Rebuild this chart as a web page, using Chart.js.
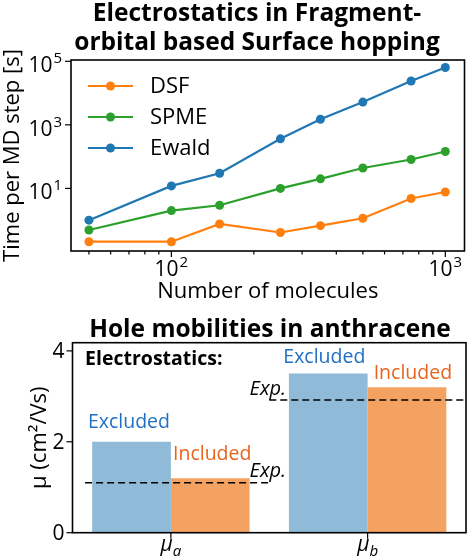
<!DOCTYPE html>
<html>
<head>
<meta charset="utf-8">
<script src="https://cdn.jsdelivr.net/npm/chart.js@4.4.0/dist/chart.umd.min.js"></script>
<style>
    html, body { margin: 0; padding: 0; background: #fff; }
    body { width: 469px; height: 558px; position: relative; overflow: hidden; }
    canvas { position: absolute; left: 0; }
    #timingChart { top: 0; }
    #mobilityChart { top: 305px; }
</style>
</head>
<body>
<canvas id="timingChart" width="469" height="305"></canvas>
<canvas id="mobilityChart" width="469" height="253"></canvas>
<script>
// ---- ข้อมูลกราฟบน: เวลาต่อ MD step ----
const nMolecules = [50, 100, 150, 250, 350, 500, 750, 1000];
const timeDSF   = [0.21, 0.21, 0.76, 0.41, 0.67, 1.15, 4.8, 7.7];
const timeSPME  = [0.49, 2.0, 2.95, 10, 20, 44, 81, 145];
const timeEwald = [1.0, 12, 30, 363, 1500, 5200, 24000, 64000];
const seriesNames = ['DSF', 'SPME', 'Ewald'];
const xTickValues = [50, 60, 70, 80, 90, 100, 200, 300, 400, 500, 600, 700, 800, 900, 1000];
const xLabelValues = [100, 1000];
const yTickValues = [10, 1000, 100000];

// ---- ข้อมูลกราฟล่าง: mobility ----
const mobilityLabels = ['μa', 'μb'];
const mobilityExcluded = [2.0, 3.5];
const mobilityIncluded = [1.2, 3.2];
const expMobility = [1.1, 2.92];
const expSpans = [[-0.436, 0.5], [0.5, 1.5]];
const mobilityTicks = [0, 2, 4];

const FONT = '"Open Sans", "DejaVu Sans", sans-serif';
const seriesColors = ['#ff7f0e', '#2ca02c', '#1f77b4'];
Chart.defaults.font.family = FONT;
Chart.defaults.color = '#000';

/**
 * เขียนเลขยกกำลัง 10^n
 */
function drawPower(ctx, exponent, x, baseline, align) {
    ctx.font = `21px ${FONT}`;
    const w1 = ctx.measureText('10').width;
    ctx.font = `15px ${FONT}`;
    const w2 = ctx.measureText(String(exponent)).width + 1;
    let x0 = x;
    if (align === 'center') x0 = x - (w1 + w2) / 2;
    if (align === 'right') x0 = x - (w1 + w2);
    ctx.textAlign = 'left';
    ctx.textBaseline = 'alphabetic';
    ctx.font = `21px ${FONT}`;
    ctx.fillText('10', x0, baseline);
    ctx.font = `15px ${FONT}`;
    ctx.fillText(String(exponent), x0 + w1 + 1, baseline - 9);
}

/**
 * กรอบรอบพื้นที่กราฟ
 */
const axesFrame = {
    id: 'axesFrame',
    afterDraw(chart) {
        const {ctx, chartArea: a} = chart;
        ctx.save();
        ctx.strokeStyle = '#000';
        ctx.lineWidth = 1.6;
        ctx.strokeRect(a.left, a.top, a.right - a.left, a.bottom - a.top);
        ctx.restore();
    }
};

/**
 * ขีด tick (major ยาว / minor สั้น)
 */
const tickMarks = {
    id: 'tickMarks',
    afterDraw(chart, args, opts) {
        const {ctx, chartArea: a} = chart;
        ctx.save();
        ctx.strokeStyle = '#000';
        ctx.lineWidth = 1.2;
        ['x', 'y'].forEach(id => {
            const scale = chart.scales[id];
            scale.ticks.forEach((t, i) => {
                const major = opts.isMajor(id, t.value);
                const len = major ? 6 : 3.5;
                const p = scale.getPixelForTick(i);
                ctx.beginPath();
                if (id === 'x') {
                    ctx.moveTo(p, a.bottom);
                    ctx.lineTo(p, a.bottom + len);
                } else {
                    ctx.moveTo(a.left, p);
                    ctx.lineTo(a.left - len, p);
                }
                ctx.stroke();
            });
        });
        ctx.restore();
    }
};

/**
 * หัวเรื่องตัวหนา
 */
const figureTitle = {
    id: 'figureTitle',
    afterDraw(chart, args, opts) {
        const ctx = chart.ctx;
        ctx.save();
        ctx.font = `bold ${opts.size}px ${FONT}`;
        ctx.fillStyle = '#000';
        ctx.textAlign = 'center';
        ctx.textBaseline = 'alphabetic';
        opts.lines.forEach((line, i) => ctx.fillText(line, opts.x, opts.y + i * opts.gap));
        ctx.restore();
    }
};

/**
 * ป้าย tick แบบ 10^n ของกราฟบน
 */
const powerLabels = {
    id: 'powerLabels',
    afterDraw(chart) {
        const {ctx, chartArea: a, scales} = chart;
        ctx.save();
        ctx.fillStyle = '#000';
        xLabelValues.forEach(v => {
            drawPower(ctx, Math.round(Math.log10(v)), scales.x.getPixelForValue(v), a.bottom + 25, 'center');
        });
        yTickValues.forEach(v => {
            drawPower(ctx, Math.round(Math.log10(v)), a.left - 9, scales.y.getPixelForValue(v) + 11, 'right');
        });
        ctx.restore();
    }
};

/**
 * legend มุมซ้ายบน
 */
const timingLegend = {
    id: 'timingLegend',
    afterDraw(chart) {
        const {ctx, chartArea: a} = chart;
        const x0 = a.left + 17;
        const y0 = a.top + 26;
        ctx.save();
        ctx.font = `22px ${FONT}`;
        ctx.textBaseline = 'middle';
        ctx.textAlign = 'left';
        chart.data.datasets.forEach((ds, i) => {
            const y = y0 + i * 31;
            ctx.strokeStyle = ds.borderColor;
            ctx.fillStyle = ds.borderColor;
            ctx.lineWidth = 2.2;
            ctx.beginPath();
            ctx.moveTo(x0, y);
            ctx.lineTo(x0 + 45, y);
            ctx.stroke();
            ctx.beginPath();
            ctx.arc(x0 + 22.5, y, 4.5, 0, Math.PI * 2);
            ctx.fill();
            ctx.fillStyle = '#000';
            ctx.fillText(ds.label, x0 + 62, y + 1);
        });
        ctx.restore();
    }
};

// ---- กราฟบน ----
const timingSeries = [timeDSF, timeSPME, timeEwald];
new Chart(document.getElementById('timingChart').getContext('2d'), {
    type: 'line',
    data: {
        datasets: seriesNames.map((name, i) => ({
            label: name,
            data: nMolecules.map((n, j) => ({x: n, y: timingSeries[i][j]})),
            borderColor: seriesColors[i],
            backgroundColor: seriesColors[i],
            borderWidth: 2.2,
            pointRadius: 4.5,
            pointHoverRadius: 4.5,
            pointBorderWidth: 0,
            tension: 0,
            clip: false
        }))
    },
    options: {
        responsive: false,
        animation: false,
        events: [],
        layout: { padding: { top: 60, right: 3, left: 0, bottom: 0 } },
        plugins: {
            legend: { display: false },
            tooltip: { enabled: false },
            figureTitle: {
                lines: ['Electrostatics in Fragment-', 'orbital based Surface hopping'],
                x: 257, y: 21, gap: 29, size: 24.5
            },
            tickMarks: {
                isMajor: (id, v) => (id === 'x' ? xLabelValues.includes(v) : true)
            }
        },
        scales: {
            x: {
                type: 'logarithmic',
                min: 43,
                max: 1175,
                afterBuildTicks: s => { s.ticks = xTickValues.map(v => ({value: v})); },
                afterFit: s => { s.height = 54; },
                grid: { display: false },
                border: { display: false },
                ticks: { display: false },
                title: {
                    display: true,
                    text: 'Number of molecules',
                    font: { size: 22 },
                    padding: { top: 0, bottom: 0 }
                }
            },
            y: {
                type: 'logarithmic',
                min: 0.107,
                max: 110000,
                afterBuildTicks: s => { s.ticks = yTickValues.map(v => ({value: v})); },
                afterFit: s => { s.width = 71; },
                grid: { display: false },
                border: { display: false },
                ticks: { display: false },
                title: {
                    display: true,
                    text: 'Time per MD step [s]',
                    font: { size: 22 },
                    padding: { top: 0, bottom: 0 }
                }
            }
        }
    },
    plugins: [axesFrame, tickMarks, powerLabels, timingLegend, figureTitle]
});

/**
 * ข้อความกำกับในกราฟล่าง (พิกัดตามสเกลข้อมูล)
 */
const mobilityNotes = [
    { text: 'Electrostatics:', x: -0.436, y: 3.68, color: '#000', style: 'bold', align: 'left' },
    { text: 'Excluded', x: -0.213, y: 2.30, color: '#1f6fc4', style: '', align: 'center' },
    { text: 'Included', x: 0.21, y: 1.60, color: '#e8641e', style: '', align: 'center' },
    { text: 'Excluded', x: 0.78, y: 3.74, color: '#1f6fc4', style: '', align: 'center' },
    { text: 'Included', x: 1.23, y: 3.38, color: '#e8641e', style: '', align: 'center' },
    { text: 'Exp.', x: 0.40, y: 1.23, color: '#000', style: 'italic', align: 'left' },
    { text: 'Exp.', x: 0.40, y: 3.02, color: '#000', style: 'italic', align: 'left' }
];

const mobilityNotesPlugin = {
    id: 'mobilityNotes',
    afterDatasetsDraw(chart) {
        const ctx = chart.ctx;
        const xs = chart.scales.x;
        const ys = chart.scales.y;
        ctx.save();
        // เส้นค่าทดลอง (Exp.)
        ctx.strokeStyle = '#000';
        ctx.lineWidth = 1.6;
        ctx.setLineDash([7, 4]);
        expMobility.forEach((v, i) => {
            const y = ys.getPixelForValue(v);
            ctx.beginPath();
            ctx.moveTo(xs.getPixelForValue(expSpans[i][0]), y);
            ctx.lineTo(xs.getPixelForValue(expSpans[i][1]), y);
            ctx.stroke();
        });
        ctx.setLineDash([]);
        ctx.restore();
    },
    afterDraw(chart) {
        const {ctx, chartArea: a} = chart;
        const xs = chart.scales.x;
        const ys = chart.scales.y;
        ctx.save();
        ctx.textBaseline = 'alphabetic';
        mobilityNotes.forEach(n => {
            const size = n.style === 'italic' ? 20 : 19.5;
            ctx.font = `${n.style} ${size}px ${FONT}`.trim();
            ctx.fillStyle = n.color;
            ctx.textAlign = n.align;
            ctx.fillText(n.text, xs.getPixelForValue(n.x), ys.getPixelForValue(n.y));
        });
        // ป้ายแกน y
        ctx.fillStyle = '#000';
        ctx.font = `21px ${FONT}`;
        ctx.textAlign = 'right';
        ctx.textBaseline = 'middle';
        mobilityTicks.forEach(v => ctx.fillText(String(v), a.left - 8, ys.getPixelForValue(v) + 1));
        // ป้ายแกน x: μ พร้อมตัวห้อย
        ctx.textAlign = 'left';
        ctx.textBaseline = 'alphabetic';
        xs.ticks.forEach((t, i) => {
            const label = mobilityLabels[i];
            const main = label.charAt(0);
            const sub = label.slice(1);
            ctx.font = `italic 21px ${FONT}`;
            const w1 = ctx.measureText(main).width;
            ctx.font = `italic 15px ${FONT}`;
            const w2 = ctx.measureText(sub).width;
            const x0 = xs.getPixelForTick(i) - (w1 + w2) / 2;
            const base = a.bottom + 18;
            ctx.font = `italic 21px ${FONT}`;
            ctx.fillText(main, x0, base);
            ctx.font = `italic 15px ${FONT}`;
            ctx.fillText(sub, x0 + w1, base + 5);
        });
        ctx.restore();
    }
};

// ---- กราฟล่าง ----
new Chart(document.getElementById('mobilityChart').getContext('2d'), {
    type: 'bar',
    data: {
        labels: mobilityLabels,
        datasets: [
            {
                label: 'Excluded',
                data: mobilityExcluded,
                backgroundColor: '#8fbbd9',
                borderWidth: 0,
                barPercentage: 1.0,
                categoryPercentage: 0.8
            },
            {
                label: 'Included',
                data: mobilityIncluded,
                backgroundColor: '#f4a261',
                borderWidth: 0,
                barPercentage: 1.0,
                categoryPercentage: 0.8
            }
        ]
    },
    options: {
        responsive: false,
        animation: false,
        events: [],
        layout: { padding: { top: 37.7, right: 3, left: 0, bottom: 0 } },
        plugins: {
            legend: { display: false },
            tooltip: { enabled: false },
            figureTitle: {
                lines: ['Hole mobilities in anthracene'],
                x: 270, y: 32, gap: 0, size: 24.5
            },
            tickMarks: { isMajor: () => true }
        },
        scales: {
            x: {
                type: 'category',
                offset: true,
                afterFit: s => { s.height = 25.3; },
                grid: { display: false },
                border: { display: false },
                ticks: { display: false }
            },
            y: {
                min: 0,
                max: 4.18,
                afterBuildTicks: s => { s.ticks = mobilityTicks.map(v => ({value: v})); },
                afterFit: s => { s.width = 72.5; },
                grid: { display: false },
                border: { display: false },
                ticks: { display: false },
                title: {
                    display: true,
                    text: 'μ (cm²/Vs)',
                    font: { size: 22 },
                    padding: { top: 27, bottom: 0 }
                }
            }
        }
    },
    plugins: [axesFrame, tickMarks, mobilityNotesPlugin, figureTitle]
});
</script>
</body>
</html>
